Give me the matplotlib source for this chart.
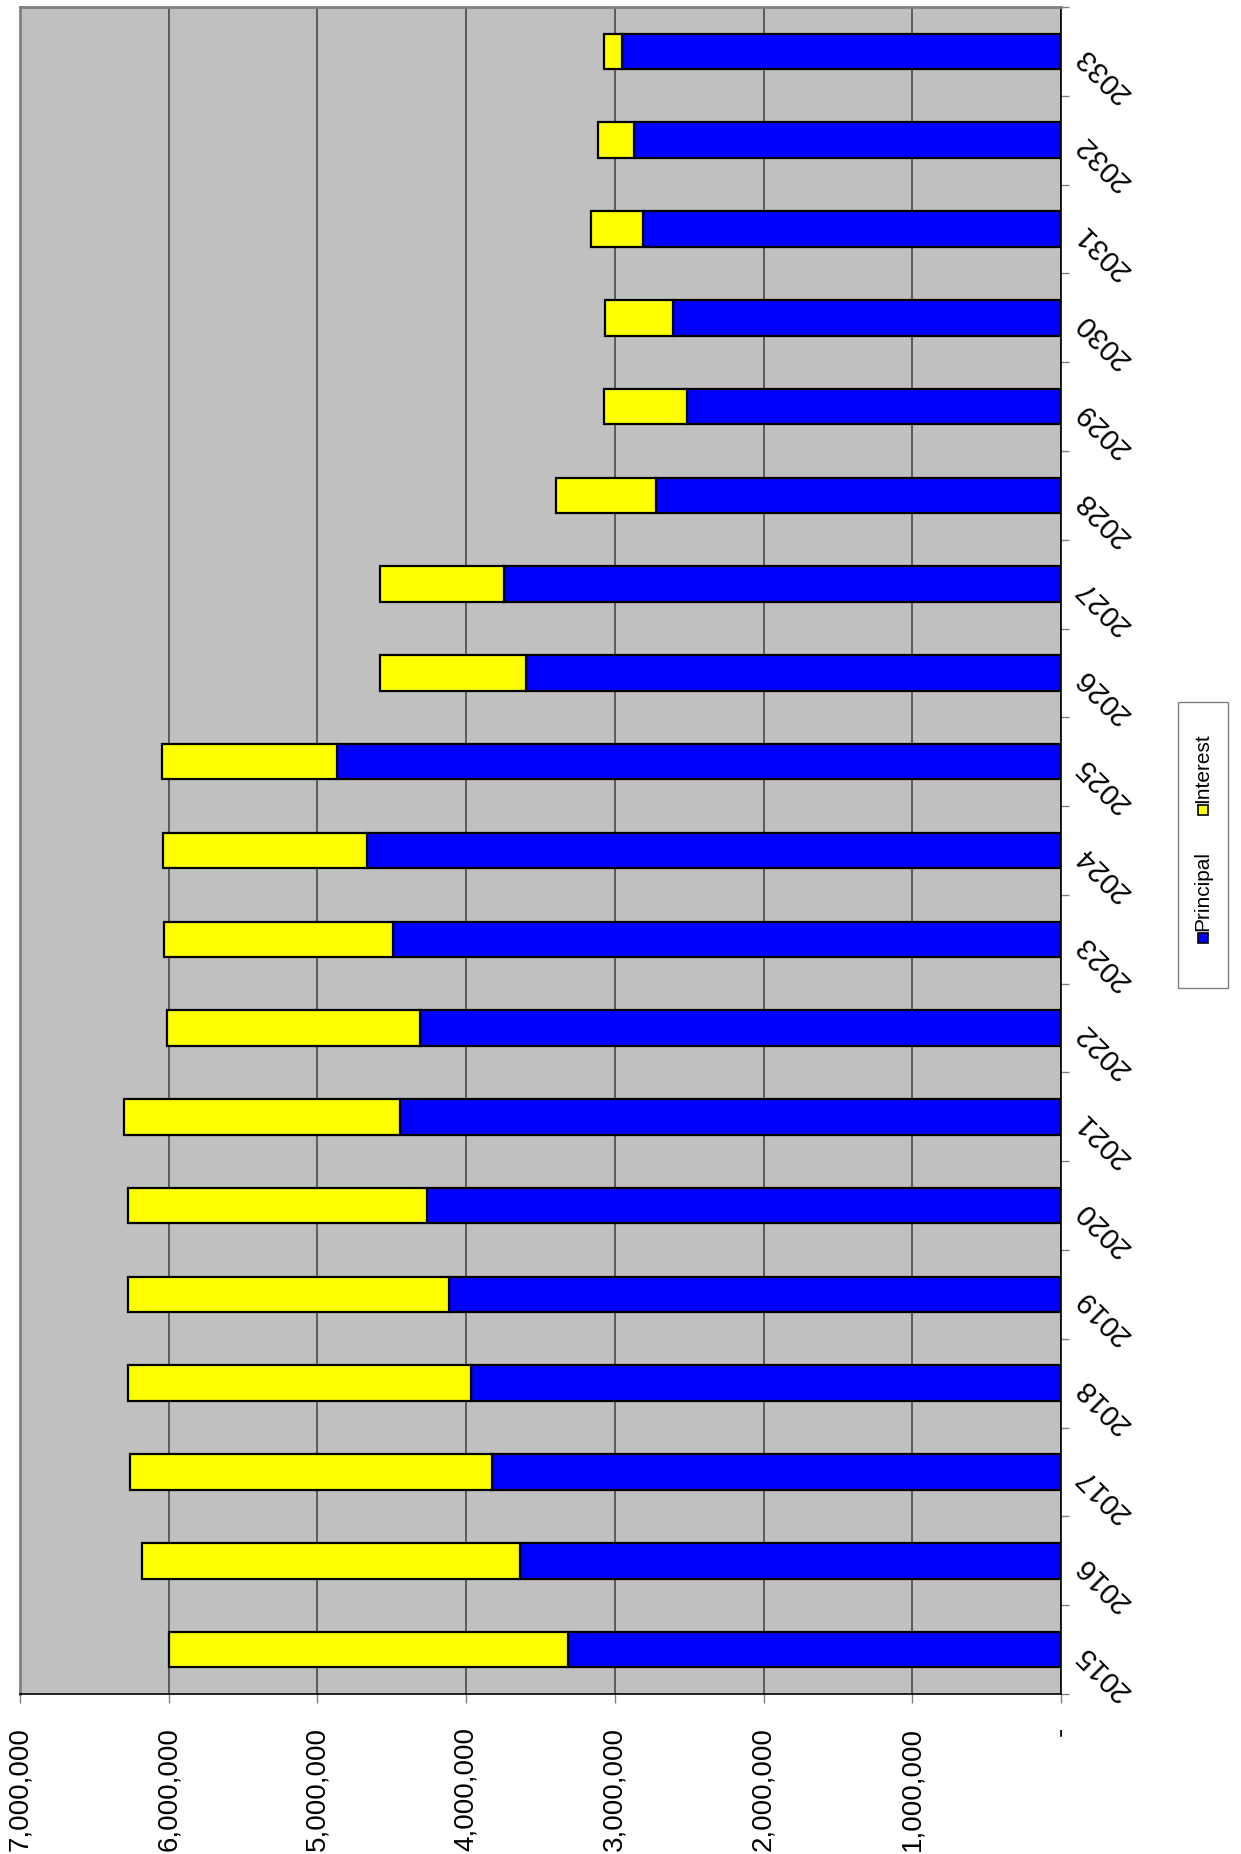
import numpy as np
import matplotlib
matplotlib.use('Agg')
import matplotlib.pyplot as plt
from matplotlib.patches import Rectangle
from matplotlib.ticker import FuncFormatter

plt.rcParams['font.family'] = ['Liberation Sans', 'DejaVu Sans']

# Data
years = ['2015', '2016', '2017', '2018', '2019', '2020', '2021', '2022', '2023', '2024',
         '2025', '2026', '2027', '2028', '2029', '2030', '2031', '2032', '2033']
principal = [3317000, 3636000, 3827000, 3970000, 4113000, 4264000, 4447000, 4312000, 4495000,
             4670000, 4869000, 3596000, 3747000, 2721000, 2514000, 2609000, 2808000, 2872000, 2951000]
total = [6000000, 6180000, 6260000, 6277000, 6277000, 6277000, 6300000, 6014000, 6030000,
         6038000, 6046000, 4582000, 4582000, 3397000, 3071000, 3063000, 3158000, 3111000, 3071000]
interest = [t - p for t, p in zip(total, principal)]
value_ticks = [0, 1000000, 2000000, 3000000, 4000000, 5000000, 6000000, 7000000]

W, H = 1241, 1854
fig = plt.figure(figsize=(W / 100, H / 100), dpi=100)
ax = fig.add_axes([20 / W, 1 - 1694 / H, 1041 / W, 1687 / H])
ax.set_facecolor('#C0C0C0')

pos = np.arange(len(years))
ax.barh(pos, principal, height=0.4, color='#0000FF', edgecolor='black', linewidth=1.6, zorder=3)
ax.barh(pos, interest, left=principal, height=0.4, color='#FFFF00', edgecolor='black', linewidth=1.6, zorder=3)

# value axis (horizontal, reversed)
ax.set_xlim(7000000, 0)
ax.set_xticks(value_ticks)
ax.xaxis.set_major_formatter(FuncFormatter(lambda v, p: '-' if v == 0 else f'{v:,.0f}'))
ax.tick_params(axis='x', direction='out', length=6.5, width=1, color='#808080',
               labelsize=20, pad=17, labelrotation=90)
ax.grid(axis='x', color='#404040', linewidth=1.1, zorder=1)

# category axis on the right
ax.set_ylim(-0.5, len(years) - 0.5)
ax.yaxis.tick_right()
ax.set_yticks(np.arange(-0.5, len(years)), labels=[])
ax.set_yticks(pos, labels=years, minor=True)
ax.tick_params(axis='y', which='major', direction='out', length=6, width=1, color='#808080')
ax.tick_params(axis='y', which='minor', length=0, labelsize=21, pad=14)
for lab in ax.get_yticklabels(minor=True):
    lab.set_rotation(135)
    lab.set_rotation_mode('anchor')
    lab.set_ha('right')
    lab.set_va('center')

for s in ['top', 'left']:
    ax.spines[s].set_color('#808080')
    ax.spines[s].set_linewidth(2)
for s in ['right', 'bottom']:
    ax.spines[s].set_color('black')
    ax.spines[s].set_linewidth(1.2)

# rotated legend drawn by hand
fig.patches.append(Rectangle((1178 / W, 1 - 988 / H), 50 / W, 286 / H, transform=fig.transFigure,
                             facecolor='white', edgecolor='#808080', linewidth=1))
for name, color, ymark in [('Principal', '#0000FF', 938), ('Interest', '#FFFF00', 810)]:
    fig.patches.append(Rectangle((1198 / W, 1 - (ymark + 5) / H), 10 / W, 10 / H, transform=fig.transFigure,
                                 facecolor=color, edgecolor='black', linewidth=1.2))
    fig.text(1203 / W, 1 - (ymark - 7) / H, name, rotation=90, ha='center', va='bottom', fontsize=15)

fig.savefig('out.png', dpi=100)
